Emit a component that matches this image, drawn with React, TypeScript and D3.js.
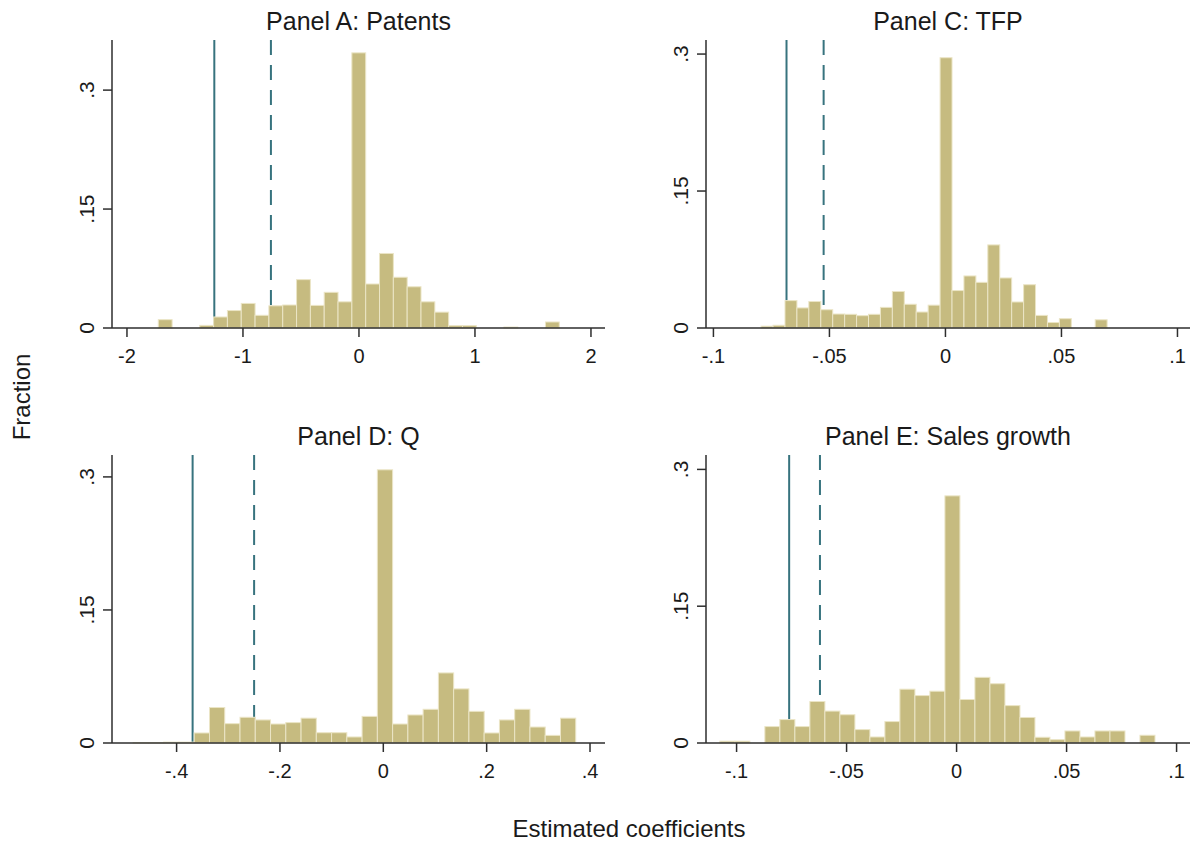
import React from "react";
import * as d3 from "d3";

// Histogram bin heights (fraction of estimates per bin), 29 equal-width bins per panel.
const patentsFractions = [
  0.0105, 0, 0, 0.0033, 0.0139, 0.022, 0.031, 0.016, 0.028, 0.029, 0.061, 0.0285, 0.045, 0.033,
  0.347, 0.0555, 0.094, 0.064, 0.052, 0.033, 0.02, 0.003, 0.003, 0, 0, 0.0012, 0, 0, 0.0076,
];
const patentsBinStart = -1.73;
const patentsBinWidth = 0.1192;

const tfpFractions = [
  0.002, 0.003, 0.03, 0.022, 0.029, 0.02, 0.0153, 0.015, 0.0135, 0.015, 0.0226, 0.04, 0.026, 0.0175,
  0.025, 0.296, 0.041, 0.057, 0.05, 0.091, 0.0548, 0.0285, 0.0474, 0.0138, 0.006, 0.0102, 0, 0, 0.009,
];
const tfpBinStart = -0.07944;
const tfpBinWidth = 0.005142;

const qFractions = [
  0.0005, 0.0005, 0.001, 0.001, 0.0113, 0.04, 0.0218, 0.029, 0.026, 0.0214, 0.023, 0.028, 0.0116,
  0.0116, 0.0068, 0.03, 0.308, 0.0214, 0.0316, 0.038, 0.079, 0.061, 0.0357, 0.0113, 0.026, 0.038,
  0.018, 0.0086, 0.028,
];
const qBinStart = -0.484;
const qBinWidth = 0.02953;

const salesFractions = [
  0.002, 0.002, 0, 0.018, 0.0257, 0.018, 0.0455, 0.035, 0.031, 0.0147, 0.0066, 0.0235, 0.059, 0.052,
  0.0568, 0.271, 0.0477, 0.072, 0.065, 0.041, 0.028, 0.0063, 0.0037, 0.0132, 0.0066, 0.0132, 0.0132,
  0, 0.0085,
];
const salesBinStart = -0.1076;
const salesBinWidth = 0.00682;

// Reference lines: [solid, dashed]
const patentsLines = [-1.247, -0.759];
const tfpLines = [-0.0685, -0.0525];
const qLines = [-0.369, -0.25];
const salesLines = [-0.0761, -0.0621];

// Axis ticks and their labels
const yTicks = [0, 0.15, 0.3];
const yTickLabels = ["0", ".15", ".3"];
const patentsXTicks = [-2, -1, 0, 1, 2];
const patentsXLabels = ["-2", "-1", "0", "1", "2"];
const smallXTicks = [-0.1, -0.05, 0, 0.05, 0.1];
const smallXLabels = ["-.1", "-.05", "0", ".05", ".1"];
const qXTicks = [-0.4, -0.2, 0, 0.2, 0.4];
const qXLabels = ["-.4", "-.2", "0", ".2", ".4"];

const titles = ["Panel A: Patents", "Panel C: TFP", "Panel D: Q", "Panel E: Sales growth"];

const FONT = "'Liberation Sans', Arial, Helvetica, sans-serif";
const BAR_FILL = "#c6bb80";
const BAR_EDGE = "#ebe5c6";
const LINE_COLOR = "#37737e";
const AXIS_COLOR = "#2e2e2e";
const TEXT_COLOR = "#1a1a1a";

type PanelProps = {
  title: string;
  fractions: number[];
  binStart: number;
  binWidth: number;
  lines: number[];
  xTicks: number[];
  xLabels: string[];
  xDomain: [number, number];
  yMax: number;
  left: number;
  right: number;
  top: number;
  bottom: number;
};

function Panel(p: PanelProps) {
  const x = d3.scaleLinear().domain(p.xDomain).range([p.left, p.right]);
  const y = d3.scaleLinear().domain([0, p.yMax]).range([p.bottom, p.top]);
  const tickLen = 9;
  return (
    <g>
      <text
        x={(p.left + p.right) / 2}
        y={p.top - 10}
        textAnchor="middle"
        fontSize={25}
        fontFamily={FONT}
        fill={TEXT_COLOR}
      >
        {p.title}
      </text>
      {/* reference lines */}
      {p.lines.map((v, i) => (
        <line
          key={"l" + i}
          x1={x(v)}
          x2={x(v)}
          y1={p.top}
          y2={p.bottom}
          stroke={LINE_COLOR}
          strokeWidth={2}
          strokeDasharray={i === 1 ? "15,10" : undefined}
        />
      ))}
      {/* histogram bars */}
      {p.fractions.map((f, i) => {
        if (f <= 0) return null;
        const x0 = x(p.binStart + i * p.binWidth);
        const x1 = x(p.binStart + (i + 1) * p.binWidth);
        return (
          <rect
            key={"b" + i}
            x={x0}
            y={y(f)}
            width={x1 - x0}
            height={y(0) - y(f)}
            fill={BAR_FILL}
            stroke={BAR_EDGE}
            strokeWidth={1}
          />
        );
      })}
      {/* y axis */}
      <line x1={p.left} x2={p.left} y1={p.top} y2={p.bottom} stroke={AXIS_COLOR} strokeWidth={1.5} />
      {yTicks.map((t, i) => (
        <g key={"yt" + i}>
          <line
            x1={p.left - tickLen}
            x2={p.left}
            y1={y(t)}
            y2={y(t)}
            stroke={AXIS_COLOR}
            strokeWidth={1.5}
          />
          <text
            transform={`translate(${p.left - 18},${y(t)}) rotate(-90)`}
            textAnchor="middle"
            fontSize={21}
            fontFamily={FONT}
            fill={TEXT_COLOR}
          >
            {yTickLabels[i]}
          </text>
        </g>
      ))}
      {/* x axis */}
      <line x1={p.left} x2={p.right} y1={p.bottom} y2={p.bottom} stroke={AXIS_COLOR} strokeWidth={1.5} />
      {p.xTicks.map((t, i) => (
        <g key={"xt" + i}>
          <line
            x1={x(t)}
            x2={x(t)}
            y1={p.bottom}
            y2={p.bottom + tickLen}
            stroke={AXIS_COLOR}
            strokeWidth={1.5}
          />
          <text
            x={x(t)}
            y={p.bottom + 35}
            textAnchor="middle"
            fontSize={20}
            fontFamily={FONT}
            fill={TEXT_COLOR}
          >
            {p.xLabels[i]}
          </text>
        </g>
      ))}
    </g>
  );
}

export default function App() {
  return (
    <svg
      width={1192}
      height={846}
      style={{ position: "absolute", left: 0, top: 0, background: "#ffffff" }}
    >
      <rect width={1192} height={846} fill="#ffffff" />
      <Panel
        title={titles[0]}
        fractions={patentsFractions}
        binStart={patentsBinStart}
        binWidth={patentsBinWidth}
        lines={patentsLines}
        xTicks={patentsXTicks}
        xLabels={patentsXLabels}
        xDomain={[-2.129, 2.121]}
        yMax={0.3632}
        left={112}
        right={605}
        top={40}
        bottom={328}
      />
      <Panel
        title={titles[1]}
        fractions={tfpFractions}
        binStart={tfpBinStart}
        binWidth={tfpBinWidth}
        lines={tfpLines}
        xTicks={smallXTicks}
        xLabels={smallXLabels}
        xDomain={[-0.1032, 0.1054]}
        yMax={0.3154}
        left={706}
        right={1190}
        top={40}
        bottom={328}
      />
      <Panel
        title={titles[2]}
        fractions={qFractions}
        binStart={qBinStart}
        binWidth={qBinWidth}
        lines={qLines}
        xTicks={qXTicks}
        xLabels={qXLabels}
        xDomain={[-0.525, 0.429]}
        yMax={0.3247}
        left={112}
        right={605}
        top={455}
        bottom={743}
      />
      <Panel
        title={titles[3]}
        fractions={salesFractions}
        binStart={salesBinStart}
        binWidth={salesBinWidth}
        lines={salesLines}
        xTicks={smallXTicks}
        xLabels={smallXLabels}
        xDomain={[-0.1139, 0.1061]}
        yMax={0.3158}
        left={706}
        right={1190}
        top={455}
        bottom={743}
      />
      <text
        transform="translate(30,397) rotate(-90)"
        textAnchor="middle"
        fontSize={24}
        fontFamily={FONT}
        fill={TEXT_COLOR}
      >
        Fraction
      </text>
      <text x={629} y={837} textAnchor="middle" fontSize={24} fontFamily={FONT} fill={TEXT_COLOR}>
        Estimated coefficients
      </text>
    </svg>
  );
}
